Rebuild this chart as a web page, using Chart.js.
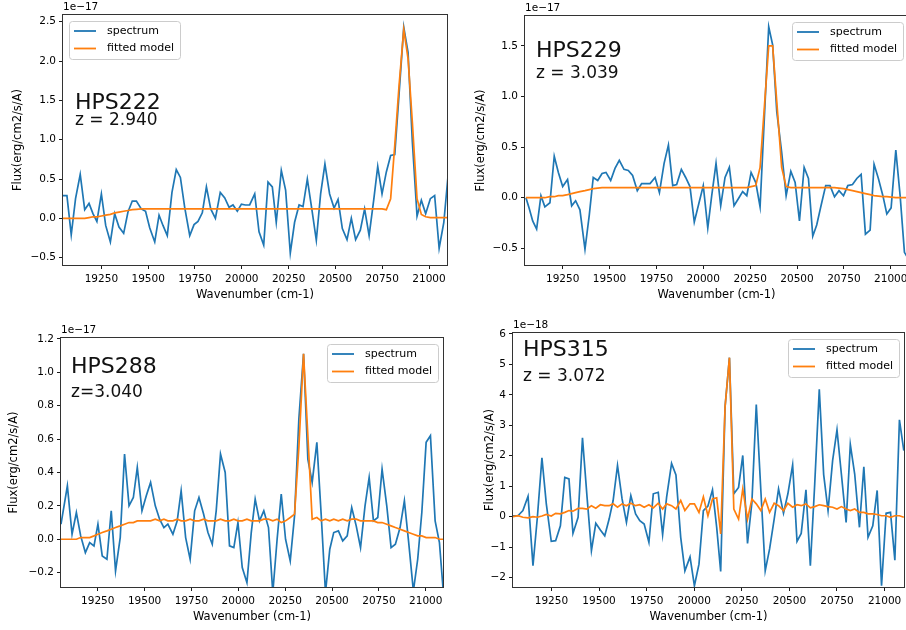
<!DOCTYPE html>
<html>
<head>
<meta charset="utf-8">
<script src="https://cdn.jsdelivr.net/npm/chart.js@4.4.1/dist/chart.umd.min.js"></script>
<style>
  html, body { margin: 0; padding: 0; background: #ffffff; width: 906px; height: 630px; overflow: hidden; position: relative; }
  .panel { position: absolute; }
  .panel canvas { display: block; }
</style>
</head>
<body>
<div class="panel" id="wrap222"><canvas id="hps222"></canvas></div>
<div class="panel" id="wrap229"><canvas id="hps229"></canvas></div>
<div class="panel" id="wrap288"><canvas id="hps288"></canvas></div>
<div class="panel" id="wrap315"><canvas id="hps315"></canvas></div>
<script>
// Spectres HPS : flux observé + modèle ajusté

Chart.defaults.font.family = "'DejaVu Sans', sans-serif";
Chart.defaults.font.size = 10.5;
Chart.defaults.color = '#000000';

const COLORS = {
  spectrum: '#1f77b4',
  model: '#ff7f0e',
  frame: '#333333',
};

const xTicks = [19250, 19500, 19750, 20000, 20250, 20500, 20750, 21000];
const legendLabels = ['spectrum', 'fitted model'];

// HPS222 (flux en 1e-17)
const hps222Wave = [
  19045, 19066, 19089, 19112, 19137, 19161, 19184, 19205, 19226, 19250,
  19273, 19298, 19321, 19344, 19369, 19392, 19415, 19437, 19463, 19486,
  19508, 19535, 19558, 19579, 19602, 19627, 19650, 19672, 19695, 19722,
  19745, 19766, 19789, 19811, 19834, 19859, 19885, 19909, 19932, 19953,
  19976, 19998, 20019, 20042, 20069, 20092, 20117, 20140, 20163, 20184,
  20211, 20234, 20259, 20282, 20306, 20327, 20350, 20375, 20398, 20421,
  20444, 20469, 20493, 20514, 20537, 20562, 20585, 20608, 20633, 20656,
  20680, 20705, 20726, 20749, 20772, 20795, 20817, 20840, 20865, 20888,
  20911, 20936, 20959, 20982, 21007, 21030, 21054, 21079, 21102
];
const hps222Flux = [
  0.29, 0.29, -0.21, 0.25, 0.56, 0.11, 0.19, 0.06, -0.04, 0.31,
  -0.09, -0.30, 0.06, -0.11, -0.19, 0.08, 0.22, 0.22, 0.12, 0.09,
  -0.12, -0.30, 0.04, -0.09, -0.22, 0.33, 0.62, 0.52, 0.14, -0.22,
  -0.08, -0.04, 0.07, 0.40, 0.12, 0.00, 0.33, 0.26, 0.14, 0.17,
  0.09, 0.18, 0.17, 0.17, 0.31, -0.17, -0.34, 0.46, 0.40, -0.05,
  0.61, 0.36, -0.44, -0.05, 0.17, 0.15, 0.50, 0.10, -0.28, 0.31,
  0.69, 0.31, 0.13, 0.24, -0.13, -0.27, 0.00, -0.27, -0.15, 0.12,
  -0.22, 0.24, 0.66, 0.31, 0.59, 0.80, 0.81, 1.58, 2.43, 2.11,
  0.97, 0.03, 0.23, 0.06, 0.25, 0.29, -0.38, -0.05, 0.55
];
const hps222Model = [
  0.00, 0.00, 0.00, 0.00, 0.00, 0.00, 0.01, 0.02, 0.02, 0.03,
  0.04, 0.05, 0.07, 0.08, 0.09, 0.10, 0.11, 0.115, 0.12, 0.12,
  0.12, 0.12, 0.12, 0.12, 0.12, 0.12, 0.12, 0.12, 0.12, 0.12,
  0.12, 0.12, 0.12, 0.12, 0.12, 0.12, 0.12, 0.12, 0.12, 0.12,
  0.12, 0.12, 0.12, 0.12, 0.12, 0.12, 0.12, 0.12, 0.12, 0.12,
  0.12, 0.12, 0.12, 0.12, 0.12, 0.12, 0.12, 0.12, 0.12, 0.12,
  0.12, 0.12, 0.12, 0.12, 0.12, 0.12, 0.12, 0.12, 0.12, 0.12,
  0.12, 0.12, 0.12, 0.12, 0.11, 0.25, 0.93, 1.69, 2.40, 2.03,
  1.22, 0.25, 0.05, 0.02, 0.01, 0.01, 0.01, 0.01, 0.01
];
const hps222YTicks = [-0.5, 0, 0.5, 1, 1.5, 2, 2.5];

// HPS229 (flux en 1e-17)
const hps229Wave = [
  19054, 19072, 19090, 19111, 19134, 19155, 19182, 19205, 19227, 19250,
  19276, 19298, 19319, 19342, 19369, 19392, 19413, 19437, 19460, 19481,
  19506, 19529, 19552, 19577, 19600, 19623, 19648, 19671, 19694, 19716,
  19743, 19766, 19791, 19814, 19837, 19858, 19883, 19906, 19929, 19952,
  19976, 20000, 20024, 20045, 20068, 20093, 20116, 20139, 20164, 20187,
  20210, 20232, 20255, 20280, 20303, 20326, 20349, 20370, 20392, 20418,
  20442, 20467, 20490, 20513, 20538, 20561, 20584, 20605, 20628, 20653,
  20676, 20700, 20724, 20748, 20771, 20796, 20819, 20842, 20865, 20890,
  20911, 20934, 20958, 20979, 21002, 21027, 21050, 21073, 21092
];
const hps229Flux = [
  0.00, -0.11, -0.23, -0.31, 0.02, -0.09, -0.05, 0.41, 0.25, 0.11,
  0.18, -0.08, -0.03, -0.12, -0.51, -0.17, 0.20, 0.17, 0.24, 0.25,
  0.17, 0.29, 0.37, 0.28, 0.27, 0.22, 0.07, 0.14, 0.14, 0.14,
  0.20, 0.05, 0.34, 0.52, 0.12, 0.13, 0.28, 0.20, 0.11, -0.24,
  -0.06, 0.12, -0.30, 0.02, 0.34, -0.08, 0.20, 0.30, -0.08, -0.01,
  0.06, 0.02, 0.25, 0.15, -0.09, 0.80, 1.69, 1.51, 0.85, 0.45,
  0.02, 0.26, 0.15, -0.23, 0.30, 0.19, -0.38, -0.27, -0.08, 0.12,
  0.12, 0.01, 0.07, 0.02, 0.12, 0.13, 0.19, 0.23, -0.36, -0.32,
  0.33, 0.19, 0.02, -0.16, -0.10, 0.47, 0.02, -0.54, -0.60
];
const hps229Model = [
  0.00, 0.00, 0.00, 0.00, 0.00, 0.00, 0.01, 0.01, 0.02, 0.02,
  0.03, 0.04, 0.05, 0.06, 0.07, 0.08, 0.09, 0.095, 0.10, 0.10,
  0.10, 0.10, 0.10, 0.10, 0.10, 0.10, 0.10, 0.10, 0.10, 0.10,
  0.10, 0.10, 0.10, 0.10, 0.10, 0.10, 0.10, 0.10, 0.10, 0.10,
  0.10, 0.10, 0.10, 0.10, 0.10, 0.10, 0.10, 0.10, 0.10, 0.10,
  0.10, 0.10, 0.11, 0.12, 0.30, 0.90, 1.50, 1.50, 0.95, 0.30,
  0.11, 0.10, 0.10, 0.10, 0.10, 0.10, 0.10, 0.10, 0.10, 0.10,
  0.10, 0.10, 0.095, 0.09, 0.08, 0.07, 0.06, 0.05, 0.04, 0.03,
  0.02, 0.015, 0.01, 0.01, 0.005, 0.00, 0.00, 0.00, 0.00
];
const hps229YTicks = [-0.5, 0, 0.5, 1, 1.5];

// HPS288 (flux en 1e-17)
const hps288Wave = [
  19054, 19088, 19113, 19136, 19159, 19184, 19207, 19230, 19251, 19274,
  19299, 19322, 19345, 19370, 19393, 19417, 19440, 19461, 19486, 19509,
  19532, 19557, 19580, 19603, 19624, 19651, 19674, 19695, 19719, 19743,
  19767, 19790, 19815, 19838, 19861, 19882, 19905, 19930, 19953, 19976,
  19998, 20021, 20046, 20069, 20090, 20113, 20136, 20161, 20184, 20207,
  20229, 20252, 20277, 20300, 20323, 20348, 20371, 20394, 20419, 20442,
  20465, 20488, 20509, 20534, 20557, 20581, 20605, 20629, 20652, 20676,
  20698, 20721, 20744, 20767, 20792, 20815, 20838, 20863, 20886, 20909,
  20934, 20957, 20979, 21002, 21025, 21050, 21073, 21096
];
const hps288Flux = [
  0.09, 0.32, 0.03, 0.16, 0.02, -0.08, -0.02, -0.04, 0.09, -0.10,
  -0.12, 0.17, -0.19, 0.01, 0.51, 0.20, 0.25, 0.43, 0.17, 0.26,
  0.34, 0.20, 0.12, 0.07, 0.09, 0.03, 0.11, 0.29, 0.01, -0.12,
  0.17, 0.25, 0.15, 0.04, -0.03, 0.17, 0.51, 0.40, -0.04, -0.05,
  0.10, -0.17, -0.26, 0.04, 0.24, 0.11, 0.17, 0.07, -0.32, 0.00,
  0.27, 0.00, -0.13, 0.14, 0.72, 1.11, 0.48, 0.34, 0.58, 0.15,
  -0.32, -0.06, 0.04, 0.05, -0.01, 0.02, 0.19, 0.08, -0.05, 0.20,
  0.37, 0.11, 0.13, 0.42, 0.20, -0.05, -0.03, 0.07, 0.23, -0.02,
  -0.31, -0.12, 0.16, 0.58, 0.62, 0.11, -0.02, -0.35
];
const hps288Model = [
  0.00, 0.00, 0.00, 0.00, 0.01, 0.01, 0.01, 0.02, 0.03, 0.04,
  0.05, 0.06, 0.07, 0.08, 0.09, 0.10, 0.10, 0.11, 0.11, 0.11,
  0.11, 0.12, 0.11, 0.12, 0.11, 0.11, 0.12, 0.11, 0.11, 0.12,
  0.11, 0.11, 0.12, 0.11, 0.11, 0.11, 0.12, 0.11, 0.11, 0.12,
  0.11, 0.11, 0.12, 0.11, 0.11, 0.11, 0.12, 0.12, 0.11, 0.12,
  0.10, 0.11, 0.13, 0.15, 0.55, 1.11, 0.62, 0.12, 0.13, 0.11,
  0.12, 0.11, 0.12, 0.11, 0.12, 0.11, 0.12, 0.12, 0.11, 0.11,
  0.11, 0.11, 0.10, 0.10, 0.09, 0.08, 0.07, 0.06, 0.05, 0.04,
  0.03, 0.02, 0.02, 0.01, 0.01, 0.01, 0.00, 0.00
];
const hps288YTicks = [-0.2, 0, 0.2, 0.4, 0.6, 0.8, 1.0, 1.2];

// HPS315 (flux en 1e-18)
const hps315Wave = [
  19048, 19074, 19100, 19127, 19153, 19176, 19200, 19223, 19249, 19272,
  19297, 19320, 19342, 19363, 19390, 19413, 19437, 19460, 19483, 19507,
  19530, 19553, 19574, 19597, 19621, 19644, 19667, 19692, 19714, 19737,
  19762, 19785, 19811, 19834, 19855, 19881, 19904, 19929, 19951, 19978,
  20001, 20025, 20048, 20072, 20096, 20118, 20139, 20162, 20185, 20208,
  20233, 20255, 20280, 20303, 20326, 20350, 20373, 20396, 20420, 20443,
  20469, 20492, 20517, 20540, 20562, 20587, 20610, 20633, 20657, 20680,
  20703, 20727, 20750, 20773, 20798, 20820, 20843, 20868, 20891, 20913,
  20938, 20961, 20984, 21008, 21031, 21054, 21078, 21101
];
const hps315Flux = [
  0.03, 0.03, 0.20, 0.67, -1.61, -0.02, 1.93, 0.42, -0.81, -0.79,
  -0.30, 1.29, 1.24, -0.55, -0.02, 2.59, 0.64, -1.12, -0.22, -0.44,
  -0.63, -0.08, 0.53, 1.68, 0.58, -0.19, 0.69, 0.09, -0.13, -0.24,
  -0.84, 0.75, 0.80, -0.59, 0.64, 1.75, 1.37, -0.68, -1.78, -1.32,
  -2.27, -1.56, 0.20, 0.35, 0.88, -0.35, -1.80, 3.60, 5.22, 0.75,
  0.96, 2.01, -0.88, 0.47, 3.68, 0.86, -1.78, -1.06, -0.08, 0.91,
  0.11, 0.75, 1.70, -0.81, -0.55, 0.88, -1.61, 1.07, 4.18, 1.38,
  0.20, 1.84, 2.85, 1.40, -0.19, 2.37, 1.40, -0.35, 1.64, -0.68,
  -0.30, 0.86, -2.27, 0.11, 0.14, -1.43, 3.18, 2.17
];
const hps315Model = [
  0.00, 0.03, -0.02, -0.04, 0.00, -0.02, 0.02, 0.07, 0.02, 0.11,
  0.09, 0.14, 0.20, 0.18, 0.27, 0.27, 0.25, 0.36, 0.28, 0.39,
  0.36, 0.36, 0.42, 0.31, 0.42, 0.36, 0.44, 0.36, 0.39, 0.31,
  0.39, 0.29, 0.44, 0.25, 0.42, 0.36, 0.25, 0.53, 0.20, 0.42,
  0.42, 0.14, 0.65, 0.03, 0.58, 0.62, -0.57, 3.60, 5.22, 0.25,
  -0.08, 0.91, -0.08, 0.58, 0.42, 0.20, 0.58, 0.14, 0.44, 0.36,
  0.20, 0.44, 0.31, 0.39, 0.36, 0.42, 0.29, 0.33, 0.39, 0.36,
  0.33, 0.31, 0.25, 0.33, 0.25, 0.20, 0.25, 0.14, 0.14, 0.09,
  0.09, 0.07, 0.03, 0.03, -0.02, 0.03, 0.03, -0.02
];
const hps315YTicks = [-2, -1, 0, 1, 2, 3, 4, 5, 6];

// Mise en page des 4 panneaux (position du canvas dans la page)
const PANELS = [
  {
    id: 'hps222', wrap: 'wrap222', left: 11, top: 0, width: 439, height: 302, yWidth: 52,
    xRange: [19045, 21096], yRange: [-0.593, 2.585], yTicks: hps222YTicks, decimals: 1,
    wave: hps222Wave, flux: hps222Flux, model: hps222Model,
    offsetText: '1e\u221217', legendSide: 'left',
    name: 'HPS222', z: 'z = 2.940', label: { dx: 12, nameDy: 94, zDy: 110 },
  },
  {
    id: 'hps229', wrap: 'wrap229', left: 474, top: 1, width: 437, height: 301, yWidth: 51,
    xRange: [19049, 21092], yRange: [-0.665, 1.796], yTicks: hps229YTicks, decimals: 1,
    wave: hps229Wave, flux: hps229Flux, model: hps229Model,
    offsetText: '1e\u221217', legendSide: 'right',
    name: 'HPS229', z: 'z = 3.039', label: { dx: 11, nameDy: 41, zDy: 62 },
  },
  {
    id: 'hps288', wrap: 'wrap288', left: 7, top: 323, width: 439, height: 301, yWidth: 54,
    xRange: [19054, 21092], yRange: [-0.286, 1.205], yTicks: hps288YTicks, decimals: 1,
    wave: hps288Wave, flux: hps288Flux, model: hps288Model,
    offsetText: '1e\u221217', legendSide: 'right',
    name: 'HPS288', z: 'z=3.040', label: { dx: 10, nameDy: 35, zDy: 59 },
  },
  {
    id: 'hps315', wrap: 'wrap315', left: 483, top: 318, width: 424, height: 306, yWidth: 30,
    xRange: [19048, 21102], yRange: [-2.31, 6.03], yTicks: hps315YTicks, decimals: 0,
    wave: hps315Wave, flux: hps315Flux, model: hps315Model,
    offsetText: '1e\u221218', legendSide: 'right',
    name: 'HPS315', z: 'z = 3.072', label: { dx: 10, nameDy: 23, zDy: 48 },
  },
];

const X_AXIS_HEIGHT = 37;
const TITLE_FONT = { size: 11.5 };

function formatTick(value, decimals) {
  return value.toFixed(decimals).replace('-', '\u2212');
}

// Cadre, texte d'offset, étiquettes et légende façon matplotlib
const decorPlugin = {
  id: 'decor',
  afterDraw(chart, args, opts) {
    const p = opts.panel;
    const { ctx, chartArea: a } = chart;
    ctx.save();

    // cadre complet
    ctx.strokeStyle = COLORS.frame;
    ctx.lineWidth = 1;
    ctx.strokeRect(Math.round(a.left) - 0.5, Math.round(a.top) - 0.5,
      Math.round(a.right - a.left) + 1, Math.round(a.bottom - a.top) + 1);

    // facteur d'échelle
    ctx.fillStyle = '#000000';
    ctx.font = "10.5px 'DejaVu Sans', sans-serif";
    ctx.textAlign = 'left';
    ctx.textBaseline = 'bottom';
    ctx.fillText(p.offsetText, a.left, a.top - 2);

    // nom de la source + redshift
    ctx.textBaseline = 'alphabetic';
    ctx.fillStyle = '#111111';
    ctx.font = "22px 'DejaVu Sans', sans-serif";
    ctx.fillText(p.name, a.left + p.label.dx, a.top + p.label.nameDy);
    ctx.font = "17px 'DejaVu Sans', sans-serif";
    ctx.fillText(p.z, a.left + p.label.dx, a.top + p.label.zDy);

    // légende
    const w = 111, h = 38;
    const bx = p.legendSide === 'left' ? a.left + 6 : a.right - 5 - w;
    const by = a.top + 6;
    ctx.beginPath();
    ctx.roundRect(bx + 0.5, by + 0.5, w, h, 3);
    ctx.fillStyle = 'rgba(255,255,255,0.85)';
    ctx.fill();
    ctx.strokeStyle = '#cccccc';
    ctx.lineWidth = 1;
    ctx.stroke();

    const rowColors = [COLORS.spectrum, COLORS.model];
    legendLabels.forEach((text, i) => {
      const cy = by + 10 + i * 17.5;
      ctx.beginPath();
      ctx.strokeStyle = rowColors[i];
      ctx.lineWidth = 1.8;
      ctx.moveTo(bx + 5, cy);
      ctx.lineTo(bx + 27, cy);
      ctx.stroke();
      ctx.fillStyle = '#000000';
      ctx.font = "11px 'DejaVu Sans', sans-serif";
      ctx.textBaseline = 'middle';
      ctx.fillText(text, bx + 38, cy);
    });

    ctx.restore();
  },
};

function buildPanel(p) {
  const wrap = document.getElementById(p.wrap);
  wrap.style.left = p.left + 'px';
  wrap.style.top = p.top + 'px';
  const canvas = document.getElementById(p.id);
  canvas.width = p.width;
  canvas.height = p.height;

  const tickGrid = {
    display: true,
    drawOnChartArea: false,
    drawTicks: true,
    tickLength: 4,
    color: '#000000',
    lineWidth: 0.9,
  };

  new Chart(canvas.getContext('2d'), {
    type: 'line',
    data: {
      datasets: [
        {
          label: legendLabels[1],
          data: p.wave.map((x, i) => ({ x, y: p.model[i] })),
          borderColor: COLORS.model,
          borderWidth: 1.7,
          pointRadius: 0,
          tension: 0,
          order: 1,
        },
        {
          label: legendLabels[0],
          data: p.wave.map((x, i) => ({ x, y: p.flux[i] })),
          borderColor: COLORS.spectrum,
          borderWidth: 1.7,
          pointRadius: 0,
          tension: 0,
          order: 2,
        },
      ],
    },
    options: {
      responsive: false,
      animation: false,
      devicePixelRatio: 1,
      events: [],
      layout: { padding: { top: 15, right: 3, left: 0, bottom: 0 } },
      plugins: {
        legend: { display: false },
        tooltip: { enabled: false },
        decor: { panel: p },
      },
      scales: {
        x: {
          type: 'linear',
          min: p.xRange[0],
          max: p.xRange[1],
          afterBuildTicks: (s) => { s.ticks = xTicks.map(v => ({ value: v })); },
          afterFit: (s) => { s.height = X_AXIS_HEIGHT; s.paddingLeft = 0; s.paddingRight = 0; },
          ticks: { callback: v => String(v), padding: 4, maxRotation: 0, autoSkip: false },
          grid: tickGrid,
          border: { display: false },
          title: { display: true, text: 'Wavenumber (cm-1)', padding: 0, font: TITLE_FONT },
        },
        y: {
          type: 'linear',
          min: p.yRange[0],
          max: p.yRange[1],
          afterBuildTicks: (s) => { s.ticks = p.yTicks.map(v => ({ value: v })); },
          afterFit: (s) => { s.width = p.yWidth; s.paddingTop = 0; s.paddingBottom = 0; },
          ticks: { callback: v => formatTick(v, p.decimals), padding: 3, autoSkip: false },
          grid: tickGrid,
          border: { display: false },
          title: { display: true, text: 'Flux(erg/cm2/s/A)', padding: 0, font: TITLE_FONT },
        },
      },
    },
    plugins: [decorPlugin],
  });
}

PANELS.forEach(buildPanel);
</script>
</body>
</html>
